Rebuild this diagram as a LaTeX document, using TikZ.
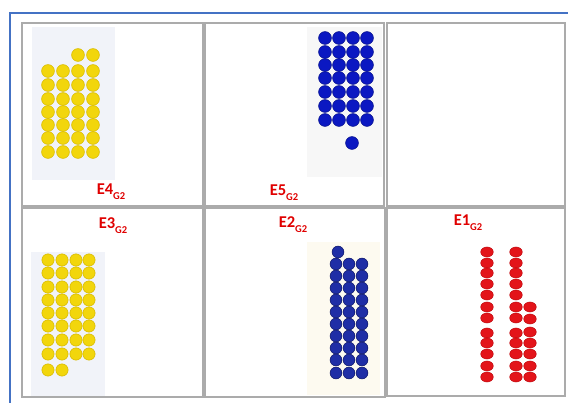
\documentclass[tikz,border=0pt]{standalone}
\usepackage{fontspec}
\setmainfont{Carlito}
\definecolor{frameblue}{HTML}{4472C4}
\definecolor{cellgray}{HTML}{ABABAB}
\definecolor{lblred}{HTML}{E00000}
\definecolor{dotyellow}{HTML}{F2D60C}
\definecolor{dotyellowedge}{HTML}{D9BC00}
\definecolor{dotblue}{HTML}{0B18C2}
\definecolor{dotblueedge}{HTML}{06108F}
\definecolor{dotnavy}{HTML}{1F2EA6}
\definecolor{dotnavyedge}{HTML}{101A70}
\definecolor{dotred}{HTML}{E3141A}
\definecolor{dotrededge}{HTML}{C00A10}
\definecolor{photogray}{HTML}{F1F3F9}
\definecolor{photocream}{HTML}{FDFAF0}
\definecolor{photolight}{HTML}{F7F7F7}
\begin{document}
\begin{tikzpicture}[x=1pt,y=-1pt,
  cellbox/.style={draw=cellgray,line width=1.2pt},
  lbl/.style={text=lblred,font=\fontsize{16.5}{18}\selectfont\bfseries,inner sep=0pt},
  ydot/.style={fill=dotyellow,draw=dotyellowedge,line width=0.6pt},
  bdot/.style={fill=dotblue,draw=dotblueedge,line width=0.6pt},
  ndot/.style={fill=dotnavy,draw=dotnavyedge,line width=0.6pt},
  rdot/.style={fill=dotred,draw=dotrededge,line width=0.5pt}]
\useasboundingbox (0,0) rectangle (568,403);
\fill[white] (0,0) rectangle (568,403);
% blue outer frame
\draw[frameblue,line width=2pt] (10,403) -- (10,13) -- (568,13);
% cells
\draw[cellbox] (22,23) rectangle (203,206);
\draw[cellbox] (205,23) rectangle (384,206);
\draw[cellbox] (387,23) rectangle (565,206);
\draw[cellbox] (22,208) rectangle (203,397);
\draw[cellbox] (205,208) rectangle (385,397);
\draw[cellbox] (387,208) rectangle (565,396);
% photo backgrounds
\fill[photogray] (32,27) rectangle (115,180);
\fill[photolight] (307,27) rectangle (382,177);
\fill[photogray] (31,252) rectangle (105,396);
\fill[photocream] (307,242) rectangle (380,395);
% E4 yellow dots
\foreach \y in {71,85,99,112,125,138,152}
  \foreach \x in {48,63,78,93}
    \draw[ydot] (\x,\y) circle (6.4);
\foreach \x in {78,93} \draw[ydot] (\x,55) circle (6.4);
% E5 blue dots
\foreach \y in {38,52,65,78,92,106,120}
  \foreach \x in {325,339,353,367}
    \draw[bdot] (\x,\y) circle (6.4);
\draw[bdot] (352,143) circle (6.4);
% E3 yellow dots
\foreach \y in {260,273,287,300,313,326,340,354}
  \foreach \x in {48,62,76,89}
    \draw[ydot] (\x,\y) circle (6.1);
\foreach \x in {48,62} \draw[ydot] (\x,370) circle (6.1);
% E2 navy dots
\draw[ndot] (338,252) circle (5.9);
\foreach \y in {264,276,288,300,312,324,336,348,360,373}
  \foreach \x in {336,349,362}
    \draw[ndot] (\x,\y) circle (5.9);
% E1 red dots
\foreach \y in {252,263,273,284,295,307,318,333,343,354,366,377} {
  \draw[rdot] (487,\y) ellipse (6.3 and 5);
  \draw[rdot] (516,\y) ellipse (6.3 and 5);
}
\foreach \y in {307,319,332,343,354,366,377}
  \draw[rdot] (530,\y) ellipse (6.3 and 5);
% labels
\node[lbl] (e4) at (111,192) {E4\raisebox{-0.3em}{\fontsize{10.5}{12}\selectfont G2}};
\node[lbl] (e5) at (284,193) {E5\raisebox{-0.3em}{\fontsize{10.5}{12}\selectfont G2}};
\node[lbl] (e3) at (113,226) {E3\raisebox{-0.3em}{\fontsize{10.5}{12}\selectfont G2}};
\node[lbl] (e2) at (293,225) {E2\raisebox{-0.3em}{\fontsize{10.5}{12}\selectfont G2}};
\node[lbl] (e1) at (468,223) {E1\raisebox{-0.3em}{\fontsize{10.5}{12}\selectfont G2}};
\end{tikzpicture}
\end{document}
